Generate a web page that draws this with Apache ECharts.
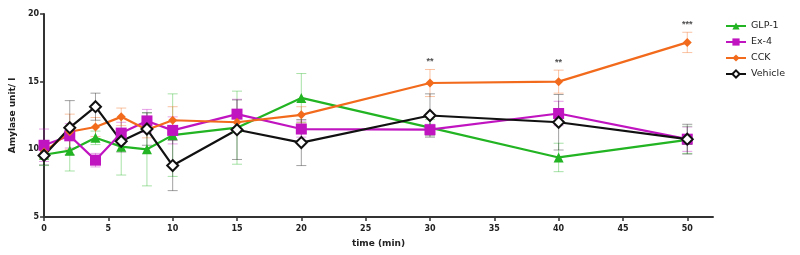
<!DOCTYPE html>
<html>
<head>
<meta charset="utf-8">
<script src="https://cdn.jsdelivr.net/npm/echarts@6/dist/echarts.min.js"></script>
<style>
  html, body { margin: 0; padding: 0; background: #fff; }
  #chart { width: 800px; height: 255px; }
</style>
</head>
<body>
<div id="chart"></div>
<script>
// time points (min)
const times = [0, 2, 4, 6, 8, 10, 15, 20, 30, 40, 50];

// means
const glp1 = [9.6, 9.9, 10.85, 10.2, 10.0, 11.05, 11.6, 13.8, 11.6, 9.4, 10.7];
const ex4 = [10.3, 11.0, 9.2, 11.2, 12.1, 11.4, 12.6, 11.5, 11.45, 12.65, 10.75];
const cck = [9.8, 11.3, 11.65, 12.4, 11.45, 12.15, 12.0, 12.55, 14.9, 15.0, 17.9];
const vehicle = [9.55, 11.6, 13.15, 10.6, 11.5, 8.8, 11.45, 10.5, 12.5, 12.0, 10.75];

// error (SEM)
const glp1Err = [0.8, 1.5, 0.5, 2.1, 2.7, 3.05, 2.7, 1.8, 0.6, 1.05, 1.0];
const ex4Err = [1.2, 0.9, 0.5, 0.8, 0.85, 1.0, 1.1, 0.6, 0.4, 0.9, 0.9];
const cckErr = [0.5, 1.3, 0.7, 0.65, 0.6, 1.0, 0.7, 0.6, 1.0, 0.85, 0.75];
const vehicleErr = [0.7, 2.0, 1.0, 0.8, 1.2, 1.85, 2.2, 1.7, 1.6, 2.05, 1.1];

// significance marks above CCK
const sigTimes = [30, 40, 50];
const sigLabels = ['**', '**', '***'];

const yTicks = [5, 10, 15, 20];
const xTicks = [0, 5, 10, 15, 20, 25, 30, 35, 40, 45, 50];

const groups = [
  { name: 'GLP-1', mean: glp1, err: glp1Err, color: '#22b422', errColor: 'rgba(34,180,34,0.4)', symbol: 'triangle', size: 10, fill: '#22b422' },
  { name: 'Ex-4', mean: ex4, err: ex4Err, color: '#c014c0', errColor: 'rgba(192,20,192,0.4)', symbol: 'rect', size: 11, fill: '#c014c0' },
  { name: 'CCK', mean: cck, err: cckErr, color: '#f26a1c', errColor: 'rgba(242,106,28,0.4)', symbol: 'diamond', size: 9, fill: '#f26a1c' },
  { name: 'Vehicle', mean: vehicle, err: vehicleErr, color: '#111111', errColor: 'rgba(20,20,20,0.4)', symbol: 'diamond', size: 11, fill: '#ffffff' }
];

function errorBar(color) {
  return function (params, api) {
    const x = api.value(0);
    const lo = api.coord([x, api.value(1)]);
    const hi = api.coord([x, api.value(2)]);
    const w = 5;
    const style = { stroke: color, lineWidth: 1 };
    return {
      type: 'group',
      children: [
        { type: 'line', shape: { x1: lo[0], y1: lo[1], x2: hi[0], y2: hi[1] }, style: style },
        { type: 'line', shape: { x1: lo[0] - w, y1: lo[1], x2: lo[0] + w, y2: lo[1] }, style: style },
        { type: 'line', shape: { x1: hi[0] - w, y1: hi[1], x2: hi[0] + w, y2: hi[1] }, style: style }
      ]
    };
  };
}

let series = [];
groups.forEach(function (g) {
  series.push({
    type: 'custom',
    name: g.name + '-err',
    renderItem: errorBar(g.errColor),
    data: times.map(function (t, i) { return [t, g.mean[i] - g.err[i], g.mean[i] + g.err[i]]; }),
    z: 1,
    silent: true
  });
});
groups.forEach(function (g) {
  series.push({
    type: 'line',
    name: g.name,
    data: times.map(function (t, i) { return [t, g.mean[i]]; }),
    symbol: g.symbol,
    symbolSize: g.size,
    showAllSymbol: true,
    lineStyle: { color: g.color, width: 2.2 },
    itemStyle: { color: g.fill, borderColor: g.color, borderWidth: g.fill === '#ffffff' ? 2 : 0 },
    z: 3
  });
});
series.push({
  type: 'scatter',
  name: 'sig',
  symbolSize: 0,
  data: sigTimes.map(function (t, i) {
    const k = times.indexOf(t);
    return { value: [t, cck[k] + cckErr[k]], label: { formatter: sigLabels[i] } };
  }),
  label: { show: true, position: 'top', distance: 3, color: '#222', fontSize: 9, fontWeight: 'bold', fontFamily: 'Liberation Sans' },
  silent: true
});

const chart = echarts.init(document.getElementById('chart'));
chart.setOption({
  animation: false,
  grid: { left: 43, right: 87, top: 14, bottom: 38 },
  legend: {
    data: groups.map(function (g) { return g.name; }),
    orient: 'vertical',
    left: 720,
    top: 16,
    itemWidth: 20,
    itemHeight: 9,
    itemGap: 6,
    textStyle: { fontSize: 9.5, color: '#222', fontFamily: 'DejaVu Sans' }
  },
  xAxis: {
    type: 'value',
    min: 0,
    max: 52,
    interval: 5,
    name: 'time (min)',
    nameLocation: 'middle',
    nameGap: 22,
    nameTextStyle: { fontSize: 9, fontWeight: 'bold', color: '#222', fontFamily: 'DejaVu Sans' },
    axisLine: { lineStyle: { color: '#333', width: 2 } },
    axisTick: { length: 4, lineStyle: { color: '#333', width: 1.5 } },
    axisLabel: {
      fontSize: 8, fontWeight: 'bold', color: '#222', fontFamily: 'DejaVu Sans',
      showMaxLabel: false,
      formatter: function (v) { return xTicks.indexOf(v) >= 0 ? String(v) : ''; }
    },
    splitLine: { show: false }
  },
  yAxis: {
    type: 'value',
    min: 5,
    max: 20,
    interval: 5,
    name: 'Amylase unit/ l',
    nameLocation: 'middle',
    nameGap: 20,
    nameTextStyle: { fontSize: 9, fontWeight: 'bold', color: '#222', fontFamily: 'DejaVu Sans' },
    axisLine: { show: true, lineStyle: { color: '#333', width: 2 } },
    axisTick: { show: true, length: 4, lineStyle: { color: '#333', width: 1.5 } },
    axisLabel: {
      fontSize: 8, fontWeight: 'bold', color: '#222', fontFamily: 'DejaVu Sans', margin: 5,
      formatter: function (v) { return yTicks.indexOf(v) >= 0 ? String(v) : ''; }
    },
    splitLine: { show: false }
  },
  series: series
});
</script>
</body>
</html>
